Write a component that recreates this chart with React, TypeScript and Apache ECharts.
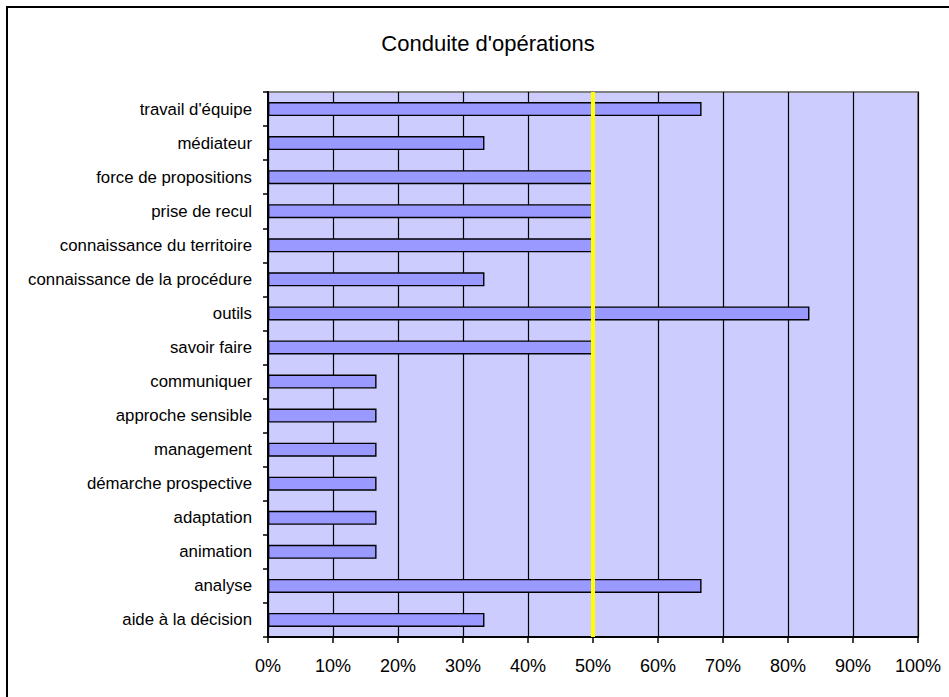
import React, { useEffect, useRef } from "react";
import * as echarts from "echarts";

const categories = [
  "travail d'équipe",
  "médiateur",
  "force de propositions",
  "prise de recul",
  "connaissance du territoire",
  "connaissance de la procédure",
  "outils",
  "savoir faire",
  "communiquer",
  "approche sensible",
  "management",
  "démarche prospective",
  "adaptation",
  "animation",
  "analyse",
  "aide à la décision",
];

const values = [
  0.667, 0.333, 0.5, 0.5, 0.5, 0.333, 0.833, 0.5, 0.167, 0.167, 0.167, 0.167,
  0.167, 0.167, 0.667, 0.333,
];

const xTicks = [0, 0.1, 0.2, 0.3, 0.4, 0.5, 0.6, 0.7, 0.8, 0.9, 1];
const referenceValue = 0.5;
const title = "Conduite d'opérations";

const FONT = "Arial, 'Liberation Sans', sans-serif";

export default function App() {
  const ref = useRef<HTMLDivElement>(null);
  useEffect(() => {
    if (!ref.current) return;
    const chart = echarts.init(ref.current, null, { renderer: "svg" });
    chart.setOption({
      animation: false,
      backgroundColor: "#FFFFFF",
      graphic: [
        {
          type: "rect",
          shape: { x: 7, y: 7, width: 1200, height: 1200 },
          style: { fill: "none", stroke: "#000000", lineWidth: 2 },
          silent: true,
          z: 100,
        },
        {
          type: "text",
          x: 488,
          y: 43,
          style: {
            text: title,
            font: `22px ${FONT}`,
            fill: "#000000",
            textAlign: "center",
            textVerticalAlign: "middle",
          },
        },
      ],
      grid: {
        left: 268,
        top: 92,
        right: 31,
        bottom: 60,
        show: true,
        backgroundColor: "#CCCCFF",
        borderColor: "#808080",
        borderWidth: 2,
      },
      xAxis: {
        type: "value",
        min: 0,
        max: 1,
        interval: 0.1,
        axisLine: { show: true, lineStyle: { color: "#000000", width: 2 } },
        axisTick: { show: true, length: 6, lineStyle: { color: "#000000", width: 1.5 } },
        splitLine: { show: true, lineStyle: { color: "#000000", width: 1.2 } },
        axisLabel: {
          margin: 20,
          color: "#000000",
          fontFamily: FONT,
          fontSize: 18,
          formatter: (v: number) => {
            const t = xTicks.find((x) => Math.abs(x - v) < 1e-9);
            return `${Math.round((t ?? v) * 100)}%`;
          },
        },
      },
      yAxis: {
        type: "category",
        data: categories,
        inverse: true,
        axisLine: { show: true, lineStyle: { color: "#000000", width: 2 } },
        axisTick: { show: true, length: 5, alignWithLabel: false, lineStyle: { color: "#000000", width: 1.5 } },
        splitLine: { show: false },
        axisLabel: {
          margin: 16,
          color: "#000000",
          fontFamily: FONT,
          fontSize: 16.8,
        },
      },
      series: [
        {
          type: "bar",
          data: values,
          barWidth: 14,
          itemStyle: { color: "#9999FF", borderColor: "#000000", borderWidth: 1.4 },
          markLine: {
            silent: true,
            symbol: "none",
            label: { show: false },
            lineStyle: { color: "#FFFF00", width: 4, type: "solid" },
            data: [{ xAxis: referenceValue }],
          },
        },
      ],
    });
    return () => chart.dispose();
  }, []);
  return (
    <div
      ref={ref}
      style={{ position: "absolute", left: 0, top: 0, width: 949, height: 697 }}
    />
  );
}
